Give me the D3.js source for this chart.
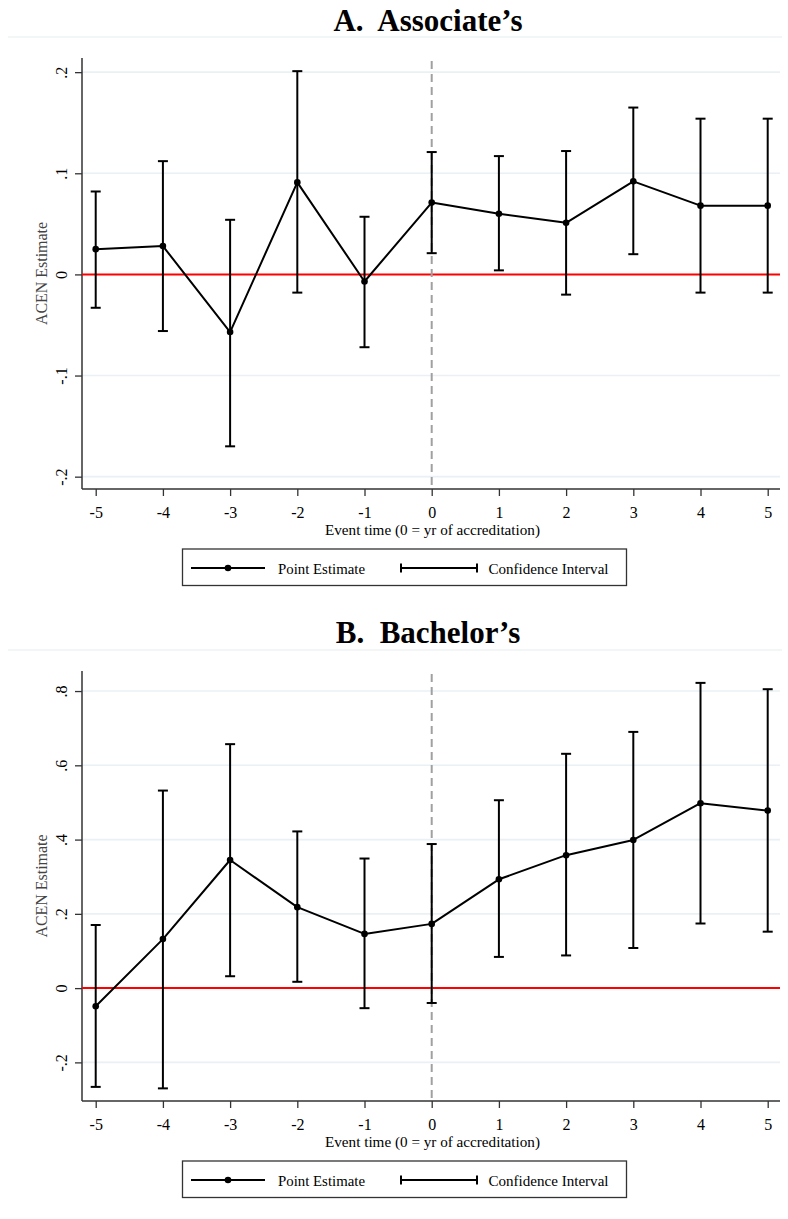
<!DOCTYPE html>
<html>
<head>
<meta charset="utf-8">
<script src="https://cdn.jsdelivr.net/npm/d3@7"></script>
<style>
  html, body { margin: 0; padding: 0; background: #fff; }
  svg { display: block; }
  text { font-family: "Liberation Serif", "Times New Roman", serif; }
  .ptitle { white-space: pre; }
</style>
</head>
<body>
<svg id="chart" width="788" height="1219"></svg>
<script>
// ---------------- DATA ----------------
const eventTime = [-5, -4, -3, -2, -1, 0, 1, 2, 3, 4, 5];
const xTickLabels = ["-5", "-4", "-3", "-2", "-1", "0", "1", "2", "3", "4", "5"];

const assocEstimate = [0.025, 0.028, -0.057, 0.091, -0.007, 0.071, 0.060, 0.051, 0.092, 0.068, 0.068];
const assocLower    = [-0.033, -0.056, -0.170, -0.018, -0.072, 0.021, 0.004, -0.020, 0.020, -0.018, -0.018];
const assocUpper    = [0.082, 0.112, 0.054, 0.201, 0.057, 0.121, 0.117, 0.122, 0.165, 0.154, 0.154];
const assocYTicks   = [-0.2, -0.1, 0, 0.1, 0.2];
const assocYLabels  = ["-.2", "-.1", "0", ".1", ".2"];

const bachEstimate = [-0.049, 0.132, 0.345, 0.218, 0.146, 0.173, 0.293, 0.358, 0.399, 0.498, 0.478];
const bachLower    = [-0.266, -0.270, 0.032, 0.017, -0.054, -0.040, 0.084, 0.088, 0.108, 0.174, 0.152];
const bachUpper    = [0.170, 0.532, 0.657, 0.422, 0.349, 0.388, 0.506, 0.631, 0.690, 0.822, 0.805];
const bachYTicks   = [-0.2, 0, 0.2, 0.4, 0.6, 0.8];
const bachYLabels  = ["-.2", "0", ".2", ".4", ".6", ".8"];

const panelTitles = ["A.  Associate\u2019s", "B.  Bachelor\u2019s"];
const yAxisTitle = "ACEN Estimate";
const xAxisTitle = "Event time (0 = yr of accreditation)";
const legendLabels = ["Point Estimate", "Confidence Interval"];

// ---------------- DRAW ----------------
const svg = d3.select("#chart");

function drawPanel(opt) {
  const g = svg.append("g");
  const left = 82, right = 780;
  const top = opt.top, bottom = opt.bottom;

  const x = d3.scaleLinear().domain([-5.204, 5.183]).range([left, right]);
  const y = d3.scaleLinear().domain(opt.yDomain).range([bottom, top]);

  // title
  g.append("text")
    .attr("class", "ptitle")
    .attr("x", 428).attr("y", opt.titleY)
    .attr("text-anchor", "middle")
    .attr("font-size", 31).attr("font-weight", "bold")
    .attr("fill", "#000")
    .text(opt.title);
  g.append("line")
    .attr("x1", 8).attr("x2", 782)
    .attr("y1", opt.titleRuleY).attr("y2", opt.titleRuleY)
    .attr("stroke", "#e6eef0").attr("stroke-width", 1.2);

  // gridlines
  g.append("g").selectAll("line").data(opt.yTicks.filter(v => v !== 0)).join("line")
    .attr("x1", left).attr("x2", right)
    .attr("y1", d => y(d)).attr("y2", d => y(d))
    .attr("stroke", "#eaf0f3").attr("stroke-width", 1.6);

  // y axis
  const yAxis = d3.axisLeft(y).tickValues(opt.yTicks).tickSize(7)
    .tickFormat((d, i) => opt.yLabels[i]);
  const ya = g.append("g").attr("transform", `translate(${left},0)`).call(yAxis);
  ya.attr("font-size", 16).attr("font-family", null);
  ya.select(".domain").attr("stroke", "#333").attr("stroke-width", 1.5)
    .attr("d", `M0,${top}V${bottom}`);
  ya.selectAll(".tick line").attr("stroke", "#333").attr("stroke-width", 1.3);
  ya.selectAll(".tick text")
    .attr("x", null).attr("dy", null)
    .attr("transform", "translate(-15.5,0) rotate(-90)")
    .attr("text-anchor", "middle")
    .attr("font-size", 16).attr("fill", "#000");

  // x axis
  const xAxis = d3.axisBottom(x).tickValues(eventTime).tickSize(7)
    .tickFormat((d, i) => xTickLabels[i]);
  const xa = g.append("g").attr("transform", `translate(0,${bottom})`).call(xAxis);
  xa.attr("font-size", 16).attr("font-family", null);
  xa.select(".domain").attr("stroke", "#333").attr("stroke-width", 1.5)
    .attr("d", `M${left},0H${right}`);
  xa.selectAll(".tick line").attr("stroke", "#333").attr("stroke-width", 1.3);
  xa.selectAll(".tick text")
    .attr("y", 28.5).attr("dy", null)
    .attr("font-size", 16).attr("fill", "#000");

  // axis titles
  g.append("text")
    .attr("transform", `translate(46.5,${(top + bottom) / 2}) rotate(-90)`)
    .attr("text-anchor", "middle")
    .attr("font-size", 16).attr("fill", "#444")
    .attr("textLength", 103).attr("lengthAdjust", "spacingAndGlyphs")
    .text(yAxisTitle);
  g.append("text")
    .attr("x", 432.5).attr("y", bottom + 45.5)
    .attr("text-anchor", "middle")
    .attr("font-size", 15).attr("fill", "#000")
    .attr("textLength", 215).attr("lengthAdjust", "spacingAndGlyphs")
    .text(xAxisTitle);

  // zero reference line
  g.append("line")
    .attr("x1", left).attr("x2", right)
    .attr("y1", y(0)).attr("y2", y(0))
    .attr("stroke", "#ff0000").attr("stroke-width", 2);

  // event-time reference line
  g.append("line")
    .attr("x1", x(0)).attr("x2", x(0))
    .attr("y1", top + 3).attr("y2", bottom)
    .attr("stroke", "#a0a0a0").attr("stroke-width", 2)
    .attr("stroke-dasharray", "8,5");

  const rows = eventTime.map((t, i) => ({ t, est: opt.est[i], lo: opt.lo[i], hi: opt.hi[i] }));

  // error bars
  const cap = 5;
  const eb = g.append("g").attr("stroke", "#000").attr("stroke-width", 2).attr("fill", "none");
  eb.selectAll("line.v").data(rows).join("line").attr("class", "v")
    .attr("x1", d => x(d.t)).attr("x2", d => x(d.t))
    .attr("y1", d => y(d.lo)).attr("y2", d => y(d.hi));
  eb.selectAll("line.ct").data(rows).join("line").attr("class", "ct")
    .attr("x1", d => x(d.t) - cap).attr("x2", d => x(d.t) + cap)
    .attr("y1", d => y(d.hi)).attr("y2", d => y(d.hi));
  eb.selectAll("line.cb").data(rows).join("line").attr("class", "cb")
    .attr("x1", d => x(d.t) - cap).attr("x2", d => x(d.t) + cap)
    .attr("y1", d => y(d.lo)).attr("y2", d => y(d.lo));

  // point estimate line
  g.append("path").datum(rows)
    .attr("fill", "none").attr("stroke", "#000").attr("stroke-width", 2)
    .attr("stroke-linejoin", "round")
    .attr("d", d3.line().x(d => x(d.t)).y(d => y(d.est)));
  g.append("g").selectAll("circle").data(rows).join("circle")
    .attr("cx", d => x(d.t)).attr("cy", d => y(d.est)).attr("r", 3.3)
    .attr("fill", "#000");

  // legend
  const ly = bottom + 60;
  const lg = g.append("g");
  lg.append("rect")
    .attr("x", 182.5).attr("y", ly).attr("width", 444).attr("height", 36.5)
    .attr("fill", "#fff").attr("stroke", "#333").attr("stroke-width", 1.3);
  const my = ly + 19;
  lg.append("line").attr("x1", 191).attr("x2", 265).attr("y1", my).attr("y2", my)
    .attr("stroke", "#000").attr("stroke-width", 2);
  lg.append("circle").attr("cx", 228).attr("cy", my).attr("r", 3.3).attr("fill", "#000");
  lg.append("text").attr("x", 278).attr("y", ly + 25)
    .attr("font-size", 15).attr("fill", "#000")
    .attr("textLength", 87).attr("lengthAdjust", "spacingAndGlyphs")
    .text(legendLabels[0]);
  lg.append("line").attr("x1", 401).attr("x2", 477).attr("y1", my).attr("y2", my)
    .attr("stroke", "#000").attr("stroke-width", 2);
  lg.append("line").attr("x1", 401).attr("x2", 401).attr("y1", my - 4.5).attr("y2", my + 4.5)
    .attr("stroke", "#000").attr("stroke-width", 2);
  lg.append("line").attr("x1", 477).attr("x2", 477).attr("y1", my - 4.5).attr("y2", my + 4.5)
    .attr("stroke", "#000").attr("stroke-width", 2);
  lg.append("text").attr("x", 488.5).attr("y", ly + 25)
    .attr("font-size", 15).attr("fill", "#000")
    .attr("textLength", 120).attr("lengthAdjust", "spacingAndGlyphs")
    .text(legendLabels[1]);
}

drawPanel({
  title: panelTitles[0], titleY: 30.5, titleRuleY: 37,
  top: 58, bottom: 489, yDomain: [-0.2122, 0.214],
  yTicks: assocYTicks, yLabels: assocYLabels,
  est: assocEstimate, lo: assocLower, hi: assocUpper
});

drawPanel({
  title: panelTitles[1], titleY: 643, titleRuleY: 650,
  top: 671, bottom: 1101, yDomain: [-0.304, 0.854],
  yTicks: bachYTicks, yLabels: bachYLabels,
  est: bachEstimate, lo: bachLower, hi: bachUpper
});
</script>
</body>
</html>
